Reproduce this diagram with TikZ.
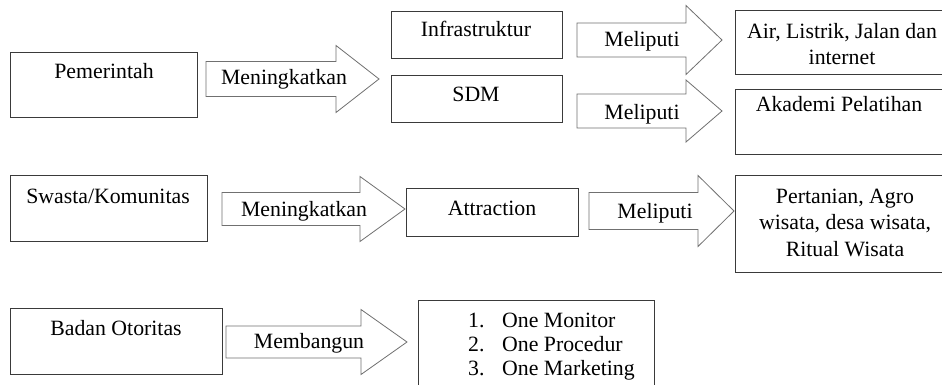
\documentclass[tikz,border=0pt]{standalone}
\usepackage{fontspec}
\setmainfont{Liberation Serif}
\definecolor{boxgray}{HTML}{3A3A3A}
\definecolor{arrgray}{HTML}{707070}
\newcommand\boxat[5]{\node[box, anchor=north west, minimum width=#4pt, minimum height=#5pt] (#1) at (#2,#3) {};}
\newcommand\blockarrow[6]{\draw[arr] (#1,#4-#5) -- (#2,#4-#5) -- (#2,#4-#6) -- (#3,#4) -- (#2,#4+#6) -- (#2,#4+#5) -- (#1,#4+#5) -- cycle;}
\begin{document}
\begin{tikzpicture}[x=1pt,y=-1pt,
  box/.style={draw=boxgray, line width=1.1pt, inner sep=0pt},
  arr/.style={draw=arrgray, line width=0.8pt, fill=white, line join=miter},
  lbl/.style={anchor=base, font=\fontsize{21.8}{26.5}\selectfont, inner sep=0pt, align=center},
  lst/.style={anchor=base west, font=\fontsize{21.8}{24}\selectfont, inner sep=0pt, align=left}]
\clip (0,0) rectangle (942,385);
\fill[white] (0,0) rectangle (942,385);
% boxes
\boxat{pem}{10}{52}{187}{65}
\boxat{inf}{391}{11}{171}{47}
\boxat{sdm}{391}{75}{171}{47}
\boxat{air}{735}{10}{220}{64}
\boxat{aka}{735}{89}{220}{65}
\boxat{swa}{10}{175}{197}{66}
\boxat{att}{406}{188}{172}{48}
\boxat{per}{735}{175}{220}{97}
\boxat{bad}{10}{308}{212}{66}
\boxat{one}{418}{300}{236}{120}
% block arrows
\blockarrow{206}{336}{379}{79}{17.5}{33.5}
\blockarrow{577}{686}{722}{40}{17}{34.5}
\blockarrow{577}{686}{722}{111}{17}{31}
\blockarrow{222}{360}{405}{209}{16.5}{32.5}
\blockarrow{589}{698}{734}{211}{18.5}{35.5}
\blockarrow{226}{361}{407}{342}{16}{32.5}
% texts (base of a multi-line node = baseline of its last line)
\node[lbl] (tpem) at (104,79) {Pemerintah};
\node[lbl] (tinf) at (476,37) {Infrastruktur};
\node[lbl] (tsdm) at (476,102) {SDM};
\node[lbl] (tair) at (842,65) {Air, Listrik, Jalan dan\\internet};
\node[lbl] (taka) at (839,112) {Akademi Pelatihan};
\node[lbl] (tswa) at (108,203) {Swasta/Komunitas};
\node[lbl] (tatt) at (492,215) {Attraction};
\node[lbl] (tper) at (845,256) {Pertanian, Agro\\wisata, desa wisata,\\Ritual Wisata};
\node[lbl] (tbad) at (116,335) {Badan Otoritas};
\node[lbl] (a1) at (284,85) {Meningkatkan};
\node[lbl] (a2) at (642,47) {Meliputi};
\node[lbl] (a3) at (642,120) {Meliputi};
\node[lbl] (a4) at (304,216) {Meningkatkan};
\node[lbl] (a5) at (655,218) {Meliputi};
\node[lbl] (a6) at (309,348) {Membangun};
\node[lst] (tone) at (468,375) {\makebox[34pt][l]{1.}One Monitor\\\makebox[34pt][l]{2.}One Procedur\\\makebox[34pt][l]{3.}One Marketing};
\end{tikzpicture}
\end{document}
